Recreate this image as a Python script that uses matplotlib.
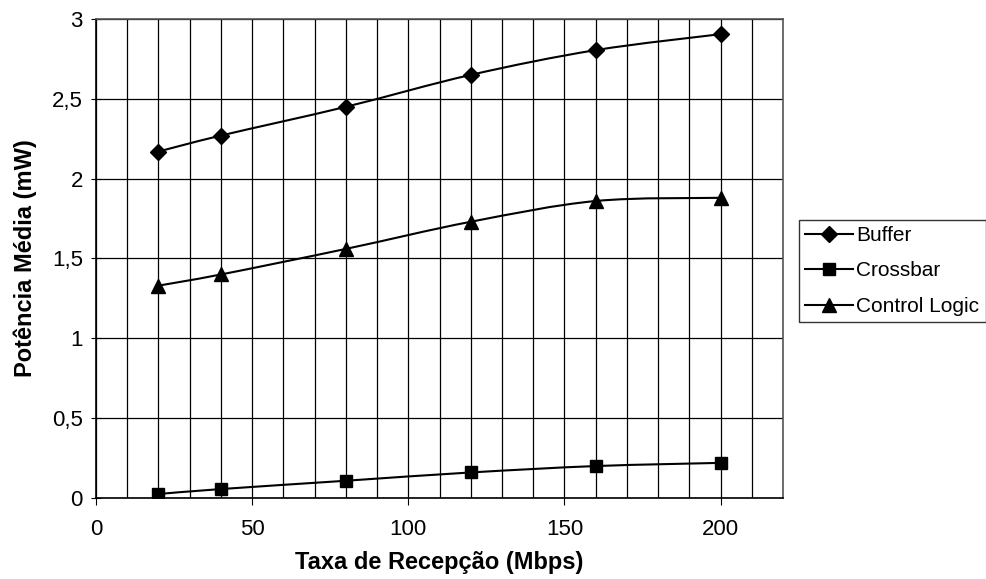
import numpy as np
import matplotlib.pyplot as plt
from matplotlib.path import Path
from matplotlib.patches import PathPatch
from matplotlib.lines import Line2D
from matplotlib.ticker import MultipleLocator, FuncFormatter

plt.rcParams['font.family'] = ['Liberation Sans', 'DejaVu Sans']

# data
taxa = [20, 40, 80, 120, 160, 200]
buffer_pw = [2.17, 2.27, 2.45, 2.65, 2.805, 2.905]
crossbar_pw = [0.025, 0.056, 0.108, 0.16, 0.20, 0.22]
control_pw = [1.33, 1.40, 1.56, 1.73, 1.86, 1.88]

series = [
    ('Buffer', buffer_pw, 'D', 8),
    ('Crossbar', crossbar_pw, 's', 8.5),
    ('Control Logic', control_pw, '^', 10),
]


def smooth_path(xs, ys):
    # Excel-like smoothed line: cubic bezier segments through each point
    xs = np.asarray(xs, float)
    ys = np.asarray(ys, float)
    n = len(xs)
    verts = [(xs[0], ys[0])]
    codes = [Path.MOVETO]
    for i in range(n - 1):
        p0 = (xs[max(i - 1, 0)], ys[max(i - 1, 0)])
        p1 = (xs[i], ys[i])
        p2 = (xs[i + 1], ys[i + 1])
        p3 = (xs[min(i + 2, n - 1)], ys[min(i + 2, n - 1)])
        c1 = (p1[0] + (p2[0] - p0[0]) / 6, p1[1] + (p2[1] - p0[1]) / 6)
        c2 = (p2[0] - (p3[0] - p1[0]) / 6, p2[1] - (p3[1] - p1[1]) / 6)
        verts += [c1, c2, p2]
        codes += [Path.CURVE4] * 3
    return Path(verts, codes)


fig = plt.figure(figsize=(9.87, 5.79), dpi=100)
ax = fig.add_axes([0.0973, 0.1399, 0.696, 0.8273])

handles = []
for name, vals, mk, ms in series:
    ax.add_patch(PathPatch(smooth_path(taxa, vals), fill=False,
                           edgecolor='black', lw=1.5, zorder=3))
    ax.plot(taxa, vals, linestyle='none', marker=mk, ms=ms,
            color='black', zorder=4)
    handles.append(Line2D([], [], color='black', lw=1.5, marker=mk, ms=ms))

ax.set_xlim(0, 220)
ax.set_ylim(0, 3)
ax.xaxis.set_major_locator(MultipleLocator(50))
ax.xaxis.set_minor_locator(MultipleLocator(10))
ax.yaxis.set_major_locator(MultipleLocator(0.5))
ax.yaxis.set_major_formatter(FuncFormatter(lambda v, p: ('%g' % v).replace('.', ',')))

ax.grid(True, which='minor', axis='x', color='black', lw=0.9)
ax.grid(True, which='major', axis='x', color='black', lw=0.9)
ax.grid(True, which='major', axis='y', color='black', lw=0.9)
ax.tick_params(axis='x', which='minor', length=0)
ax.tick_params(axis='x', which='major', direction='out', length=5, labelsize=16, pad=10)
ax.tick_params(axis='y', direction='inout', length=7, labelsize=16, pad=6)
for s in ax.spines.values():
    s.set_color('black')
    s.set_linewidth(1.2)
ax.spines['top'].set_color('#555555')
ax.spines['right'].set_color('#555555')

ax.set_xlabel('Taxa de Recepção (Mbps)', fontsize=17, fontweight='bold', labelpad=8)
ax.set_ylabel('Potência Média (mW)', fontsize=17, fontweight='bold', labelpad=11)

leg = fig.legend(handles, [s[0] for s in series], loc='center left',
                 bbox_to_anchor=(0.8095, 0.532), fontsize=15, frameon=True,
                 fancybox=False, edgecolor='black', handlelength=2.3,
                 handletextpad=0.15, borderpad=0.3, labelspacing=0.8,
                 borderaxespad=0)
leg.get_frame().set_linewidth(1.0)

fig.savefig('out.png', dpi=100)
